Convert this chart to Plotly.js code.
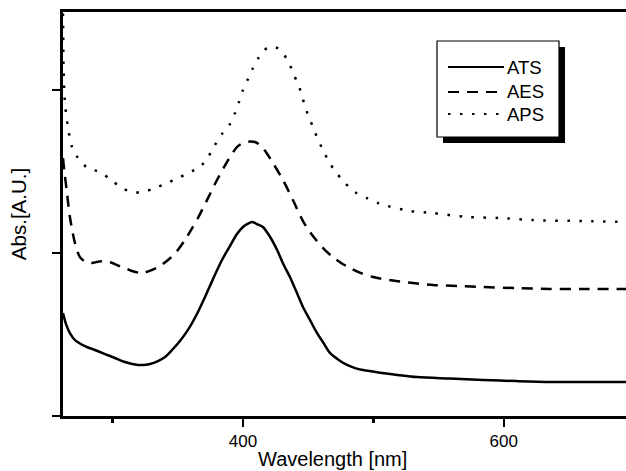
<!DOCTYPE html>
<html>
<head>
<meta charset="utf-8">
<script src="https://cdn.plot.ly/plotly-3.0.1.min.js"></script>
<style>html,body{margin:0;padding:0;background:#fff;overflow:hidden}</style>
</head>
<body>
<div id="chart" style="width:626px;height:471px"></div>
<script>
// Wavelength [nm] and absorbance [A.U.] values
var atsX = [262.0, 264.3, 267.3, 271.2, 278.8, 286.5, 294.2, 301.8, 309.5, 317.2, 323.3, 328.7, 334.8, 340.2, 345.6, 351.7, 357.8, 364.7, 370.9, 377.0, 383.9, 390.0, 395.4, 400.0, 403.8, 406.9, 410.0, 412.3, 415.3, 420.7, 426.1, 430.7, 436.0, 441.4, 446.0, 451.4, 456.7, 461.3, 466.7, 472.9, 479.8, 485.9, 492.0, 505.1, 533.4, 558.7, 584.0, 610.0, 635.4, 666.0, 694.0];
var atsY = [0.632, 0.564, 0.509, 0.466, 0.429, 0.405, 0.380, 0.356, 0.331, 0.316, 0.313, 0.319, 0.337, 0.362, 0.405, 0.460, 0.528, 0.626, 0.730, 0.840, 0.957, 1.043, 1.117, 1.160, 1.180, 1.190, 1.181, 1.172, 1.160, 1.100, 1.020, 0.936, 0.853, 0.755, 0.669, 0.589, 0.510, 0.454, 0.387, 0.347, 0.313, 0.294, 0.282, 0.266, 0.239, 0.230, 0.221, 0.214, 0.209, 0.209, 0.208];

var aesX = [262.0, 263.1, 264.8, 267.3, 271.2, 275.0, 279.6, 284.2, 289.6, 294.2, 298.8, 303.4, 309.5, 314.9, 322.5, 330.2, 336.3, 342.5, 349.4, 355.5, 360.1, 365.5, 372.4, 380.1, 387.7, 395.4, 400.8, 405.4, 409.2, 413.0, 417.6, 423.0, 430.7, 438.3, 446.0, 451.4, 456.7, 462.9, 469.0, 475.2, 482.1, 490.5, 499.7, 515.0, 530.4, 545.7, 564.9, 584.0, 609.4, 635.4, 662.3, 694.0];
var aesY = [1.583, 1.497, 1.387, 1.221, 1.061, 0.975, 0.945, 0.939, 0.948, 0.951, 0.942, 0.926, 0.908, 0.890, 0.877, 0.896, 0.920, 0.957, 1.012, 1.080, 1.141, 1.215, 1.325, 1.448, 1.558, 1.650, 1.678, 1.684, 1.681, 1.663, 1.620, 1.552, 1.448, 1.325, 1.196, 1.129, 1.074, 1.018, 0.975, 0.939, 0.908, 0.877, 0.853, 0.831, 0.816, 0.804, 0.798, 0.791, 0.785, 0.779, 0.779, 0.779];

var apsX = [262.0, 262.2, 262.4, 263.5, 265.8, 268.9, 273.5, 281.1, 290.3, 298.0, 307.2, 315.6, 323.3, 332.5, 341.7, 350.2, 357.8, 367.0, 373.2, 378.5, 383.9, 390.0, 393.9, 396.9, 400.0, 403.8, 407.7, 412.3, 418.4, 423.0, 427.6, 433.7, 437.6, 441.4, 444.5, 446.8, 449.9, 453.7, 456.7, 460.6, 465.2, 470.6, 477.5, 485.9, 495.1, 503.5, 511.2, 528.1, 545.7, 571.8, 597.1, 622.4, 660.7, 694.0];
var apsY = [2.470, 2.300, 2.141, 1.920, 1.773, 1.650, 1.583, 1.521, 1.497, 1.454, 1.399, 1.374, 1.374, 1.399, 1.429, 1.460, 1.491, 1.528, 1.589, 1.663, 1.730, 1.791, 1.859, 1.926, 2.000, 2.067, 2.135, 2.202, 2.258, 2.267, 2.252, 2.190, 2.123, 2.049, 1.988, 1.920, 1.847, 1.773, 1.712, 1.644, 1.571, 1.503, 1.436, 1.374, 1.337, 1.307, 1.288, 1.258, 1.245, 1.221, 1.215, 1.202, 1.196, 1.190];

var seriesNames = ["ATS", "AES", "APS"];
var seriesDash = ["solid", "11px,8px", "2.5px,9.5px"];
var xTitle = "Wavelength [nm]";
var yTitle = "Abs.[A.U.]";

var FONT = "Liberation Sans, Arial, Helvetica, sans-serif";
var xs = [atsX, aesX, apsX], ys = [atsY, aesY, apsY];
var traces = xs.map(function (x, i) {
  return {
    x: x, y: ys[i], type: "scatter", mode: "lines", name: seriesNames[i],
    line: {color: "#000", width: 2.5, dash: seriesDash[i], shape: "spline", smoothing: 0.8},
    showlegend: false, hoverinfo: "skip", cliponaxis: true
  };
});

// Legend: framed box with a drop shadow (paper coordinates)
var plotL = 63, plotW = 563, plotT = 12, plotH = 404;
function px(v) { return (v - plotL) / plotW; }
function py(v) { return (plotT + plotH - v) / plotH; }
var shapes = [
  {type: "rect", xref: "paper", yref: "paper", x0: px(443), x1: px(565), y0: py(143), y1: py(47), fillcolor: "#000", line: {width: 0}, layer: "above"},
  {type: "rect", xref: "paper", yref: "paper", x0: px(437), x1: px(559), y0: py(137), y1: py(41), fillcolor: "#fff", line: {color: "#000", width: 1.2}, layer: "above"}
];
var rowY = [67, 92, 114];
var annotations = [];
seriesNames.forEach(function (n, i) {
  shapes.push({type: "line", xref: "paper", yref: "paper", x0: px(448), x1: px(504), y0: py(rowY[i]), y1: py(rowY[i]), line: {color: "#000", width: 2.2, dash: seriesDash[i]}, layer: "above"});
  annotations.push({xref: "paper", yref: "paper", x: px(505), y: py(rowY[i]), xanchor: "left", yanchor: "middle", text: n, showarrow: false, font: {family: FONT, size: 18.5, color: "#000"}});
});
annotations.push({xref: "paper", yref: "paper", x: px(332), y: py(459), xanchor: "center", yanchor: "middle", text: xTitle, showarrow: false, font: {family: FONT, size: 20, color: "#000"}});

var layout = {
  width: 626, height: 471,
  margin: {l: plotL, r: 0, t: plotT, b: 471 - plotT - plotH, pad: 0},
  paper_bgcolor: "#fff", plot_bgcolor: "#fff",
  font: {family: FONT, color: "#000"},
  showlegend: false,
  xaxis: {
    range: [262, 693.7], showgrid: false, zeroline: false,
    showline: true, linecolor: "#000", linewidth: 3, mirror: true,
    tickmode: "linear", tick0: 0, dtick: 200, ticks: "outside", ticklen: 8, tickwidth: 2.5, tickcolor: "#000",
    tickfont: {family: FONT, size: 17, color: "#000"},
    minor: {tickmode: "linear", tick0: 0, dtick: 100, ticks: "outside", ticklen: 4, tickwidth: 2.5, tickcolor: "#000", showgrid: false}
  },
  yaxis: {
    range: [0, 2.479], showgrid: false, zeroline: false,
    showline: true, linecolor: "#000", linewidth: 3, mirror: false,
    tickmode: "linear", tick0: 0, dtick: 1, ticks: "outside", ticklen: 8, tickwidth: 2.5, tickcolor: "#000",
    showticklabels: false,
    title: {text: yTitle, font: {family: FONT, size: 20.5, color: "#000"}, standoff: 20}
  },
  shapes: shapes,
  annotations: annotations
};

Plotly.newPlot("chart", traces, layout, {staticPlot: true, displayModeBar: false});
</script>
</body>
</html>
